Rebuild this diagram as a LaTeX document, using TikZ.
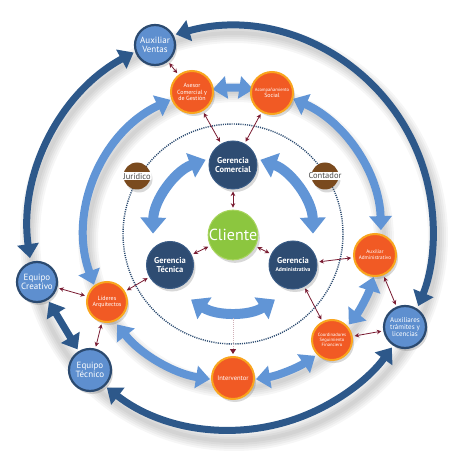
\documentclass[tikz,border=0pt]{standalone}
\usepackage{fontspec}
\setmainfont{PT Sans}
\usetikzlibrary{arrows.meta,shadows}
\definecolor{navy}{HTML}{2E4C72}
\definecolor{navyedge}{HTML}{3A5C86}
\definecolor{lblue}{HTML}{5E8FCF}
\definecolor{lbedge}{HTML}{2B4A70}
\definecolor{arcblue}{HTML}{6195D6}
\definecolor{darkarc}{HTML}{2D588A}
\definecolor{orng}{HTML}{F15A24}
\definecolor{orngedge}{HTML}{F9A51E}
\definecolor{grn}{HTML}{8CC63F}
\definecolor{grnedge}{HTML}{A8D45E}
\definecolor{brwn}{HTML}{7A4A1E}
\definecolor{linkred}{HTML}{7A1C32}
\definecolor{txtgray}{HTML}{4A4A4A}
\begin{document}
\begin{tikzpicture}[x=1pt,y=-1pt,
  nshadow/.style={drop shadow={shadow xshift=2pt,shadow yshift=-3pt,opacity=0.25,fill=black!60}},
  base/.style={circle,inner sep=0pt,align=center,text=white,nshadow},
  navynode/.style={base,fill=navy,draw=navyedge,line width=1pt,font=\bfseries\fontsize{8.5}{9}\selectfont},
  bluenode/.style={base,fill=lblue,draw=lbedge,line width=2.2pt,font=\fontsize{9}{9.5}\selectfont},
  orangenode/.style={base,fill=orng,draw=orngedge,line width=2pt,font=\fontsize{6}{6.5}\selectfont},
  greennode/.style={base,fill=grn,draw=grnedge,line width=1pt,font=\fontsize{16}{17}\selectfont},
  brownnode/.style={circle,fill=brwn,inner sep=0pt,minimum size=27pt,nshadow},
  band/.style={fill=white,rounded corners=1pt,inner xsep=1pt,inner ysep=0.8pt,text=txtgray,font=\fontsize{8.5}{9}\selectfont},
  link/.style={draw=linkred,line width=0.8pt,{Stealth[length=4.5pt,width=4.5pt]}-{Stealth[length=4.5pt,width=4.5pt]},shorten >=2pt,shorten <=2pt},
  innerarc/.style={draw=arcblue,line width=10pt,{Triangle[width=25pt,length=16pt]}-{Triangle[width=25pt,length=16pt]}},
  midarc/.style={draw=arcblue,line width=8pt,{Triangle[width=22pt,length=14pt]}-{Triangle[width=22pt,length=14pt]}},
  outerarc/.style={draw=darkarc,line width=7pt,{Triangle[width=21pt,length=14pt]}-{Triangle[width=21pt,length=14pt]}},
  dotring/.style={draw=lbedge,line width=1.4pt,dash pattern=on 1.1pt off 1.1pt},
  softshade/.style={draw=black,opacity=0.035}
]
\useasboundingbox (0,0) rectangle (474,465);
\fill[white] (0,0) rectangle (474,465);

% ring centres
\coordinate (Oin) at (233,235);
\coordinate (Omid) at (233,234);
\coordinate (Oout) at (230,230);

% soft shadows of the rings
\foreach \w in {4,8,12,16,20}{
  \draw[softshade,line width=\w pt] (234,237) circle[radius=204];
  \draw[softshade,line width=\w pt] (236,240) circle[radius=148];
}

% dotted ring
\draw[dotring] (Omid) circle[radius=110];

% outer dark arcs
\draw[outerarc] (Oout) ++(254.5:203) arc[start angle=254.5,end angle=382,radius=203];
\draw[outerarc] (Oout) ++(241.5:202) arc[start angle=241.5,end angle=172,radius=202];
\draw[outerarc] (Oout) ++(128:200) arc[start angle=128,end angle=36,radius=200];

% middle light arcs
\draw[midarc] (Omid) ++(160:148) arc[start angle=160,end angle=245,radius=148];
\draw[midarc] (Omid) ++(-66:148) arc[start angle=-66,end angle=-1.5,radius=148];
\draw[midarc] (Omid) ++(142:147) arc[start angle=142,end angle=99,radius=147];
\draw[midarc] (Omid) ++(81:147) arc[start angle=81,end angle=56,radius=147];
\draw[midarc] (Omid) ++(38:147) arc[start angle=38,end angle=17,radius=147];
\draw[midarc] (Omid) ++(262:146) arc[start angle=262,end angle=278,radius=146];

% inner arcs
\draw[innerarc] (Oin) ++(181:80) arc[start angle=181,end angle=250,radius=80];
\draw[innerarc] (Oin) ++(290:80) arc[start angle=290,end angle=359,radius=80];
\draw[innerarc] (Oin) ++(123:77) arc[start angle=123,end angle=57,radius=77];

% nodes
\node[bluenode,minimum size=40pt] (av) at (155,45) {Auxiliar\\Ventas};
\node[orangenode,minimum size=42pt] (asesor) at (192,92) {Asesor\\Comercial y\\de Gestión};
\node[orangenode,minimum size=42pt] (acomp) at (272,93) {{\fontsize{4.6}{5}\selectfont Acompañamiento}\\Social};
\node[navynode,minimum size=48pt] (gc) at (233,165) {Gerencia\\Comercial};
\node[brownnode] (jur) at (137,176) {};
\node[band] at (jur) {Jurídico};
\node[brownnode] (cont) at (325,176) {};
\node[band] at (cont) {Contador};
\node[greennode,minimum size=48pt] (cli) at (233,235) {Cliente};
\node[navynode,minimum size=47pt] (gt) at (170,265) {Gerencia\\Técnica};
\node[navynode,minimum size=48pt] (ga) at (293,265) {Gerencia\\[-1pt]{\fontsize{5.6}{6}\selectfont Administrativa}};
\node[orangenode,minimum size=42pt,font=\fontsize{5.2}{5.8}\selectfont] (auxadm) at (375,255) {Auxiliar\\Administrativo};
\node[bluenode,minimum size=40pt] (ec) at (37,282) {Equipo\\Creativo};
\node[orangenode,minimum size=40pt] (lid) at (107,302) {Líderes\\Arquitectos};
\node[bluenode,minimum size=42pt] (et) at (90,370) {Equipo\\Técnico};
\node[orangenode,minimum size=42pt,font=\fontsize{6.6}{7}\selectfont] (interv) at (233,378) {Interventor};
\node[orangenode,minimum size=40pt,font=\fontsize{4.6}{5.2}\selectfont] (coord) at (332,340) {Coordinadores\\Seguimiento\\Financiero};
\node[bluenode,minimum size=42pt,font=\fontsize{7}{7.4}\selectfont] (auxtram) at (405,327) {Auxiliares\\trámites y\\licencias};

% straight thick arrows between nodes
\draw[outerarc,shorten >=2pt,shorten <=2pt] (ec) -- (et);

% dotted drop line to Interventor
\coordinate (dtop) at (233,318);
\draw[draw=linkred!35,line width=1pt,dash pattern=on 1pt off 1pt,-{Triangle[length=5pt,width=6pt,color=linkred]},shorten >=2pt] (dtop) -- (interv);

% small links
\draw[link] (av) -- (asesor);
\draw[link] (asesor) -- (gc);
\draw[link] (acomp) -- (gc);
\draw[link] (gc) -- (cli);
\draw[link] (cli) -- (gt);
\draw[link] (cli) -- (ga);
\draw[link] (ga) -- (auxadm);
\draw[link] (ga) -- (coord);
\draw[link] (auxadm) -- (auxtram);
\draw[link] (coord) -- (auxtram);
\draw[link] (gt) -- (lid);
\draw[link] (ec) -- (lid);
\draw[link] (lid) -- (et);
\end{tikzpicture}
\end{document}
